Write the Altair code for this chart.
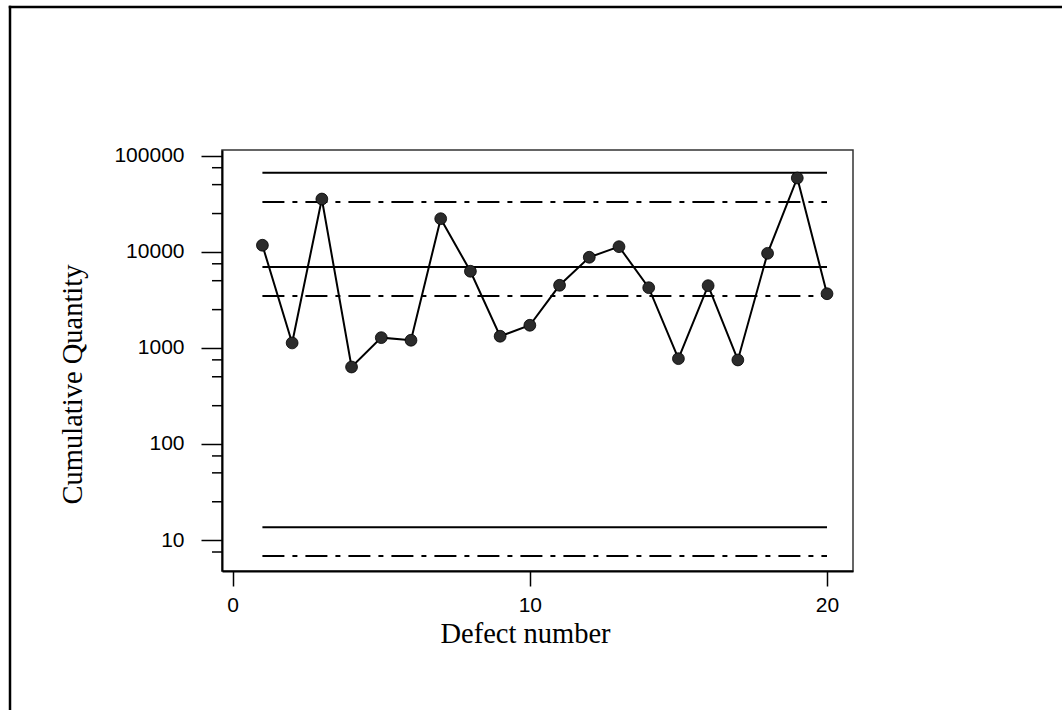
import altair as alt
import pandas as pd

# ---- data ----
defect_number = list(range(1, 21))
cumulative_quantity = [11700, 1125, 35400, 632, 1277, 1200, 22100, 6270, 1321, 1718,
                       4480, 8770, 11300, 4230, 772, 4440, 748, 9640, 58600, 3660]
solid_limits = [66540, 6944, 13.56]
dashdot_limits = [32970, 3465, 6.82]
limit_start = 1
limit_end = 20
y_major_ticks = [10, 100, 1000, 10000, 100000]
y_minor_ticks = [7.5, 25, 50, 75, 250, 500, 750, 2500, 5000, 7500, 25000, 50000, 75000]
x_ticks = [0, 10, 20]

points_df = pd.DataFrame({"x": defect_number, "y": cumulative_quantity})
solid_df = pd.DataFrame({"x": [limit_start] * len(solid_limits),
                         "x2": [limit_end] * len(solid_limits),
                         "y": solid_limits})
dash_df = pd.DataFrame({"x": [limit_start] * len(dashdot_limits),
                        "x2": [limit_end] * len(dashdot_limits),
                        "y": dashdot_limits})
minor_df = pd.DataFrame({"y": y_minor_ticks})
frame_df = pd.DataFrame({"k": [0]})

xscale = alt.Scale(domain=[-0.36, 20.875], nice=False, zero=False)
yscale = alt.Scale(type="log", domain=[4.757, 114660], nice=False)

common_axis = dict(
    tickColor="black", tickWidth=1.5, domainColor="black", domainWidth=2,
    labelFont="Liberation Sans", labelFontSize=21, labelColor="black",
    titleFont="Liberation Serif", titleFontSize=28.5, titleFontWeight="normal",
    titleColor="black", grid=False, labelFlush=False, labelOverlap=False,
)
xaxis = alt.Axis(values=x_ticks, title="Defect number", tickSize=15, labelPadding=8,
                 titleX=303, titleY=71, titleAlign="center", titleBaseline="alphabetic",
                 **common_axis)
yaxis = alt.Axis(values=y_major_ticks, format="d", title="Cumulative Quantity",
                 tickSize=21, labelPadding=17, titleAngle=270, titleX=-150, titleY=234,
                 titleAlign="center", titleBaseline="middle", **common_axis)

X = lambda f: alt.X(f, type="quantitative", scale=xscale, axis=xaxis)
Y = lambda f: alt.Y(f, type="quantitative", scale=yscale, axis=yaxis)

solid = alt.Chart(solid_df).mark_rule(color="black", strokeWidth=2).encode(
    x=X("x"), x2="x2", y=Y("y"))
dashdot = alt.Chart(dash_df).mark_rule(color="black", strokeWidth=2,
                                       strokeDash=[22, 8, 5, 8]).encode(
    x=X("x"), x2="x2", y=Y("y"))
line = alt.Chart(points_df).mark_line(color="black", strokeWidth=2).encode(
    x=X("x"), y=Y("y"))
dots = alt.Chart(points_df).mark_circle(size=140, color="#2b2b2b", opacity=1,
                                        stroke="black", strokeWidth=0.8).encode(
    x=X("x"), y=Y("y"))
minor = alt.Chart(minor_df).mark_rule(color="black", strokeWidth=1.5).encode(
    y=Y("y"), x=alt.value(-10), x2=alt.value(0))
frame_left = alt.Chart(frame_df).mark_rule(color="black", strokeWidth=2.5,
                                           strokeCap="square").encode(
    x=alt.value(-212), y=alt.value(-143), y2=alt.value(620))
frame_top = alt.Chart(frame_df).mark_rule(color="black", strokeWidth=2.5,
                                          strokeCap="square").encode(
    x=alt.value(-212), x2=alt.value(900), y=alt.value(-143))

chart = alt.layer(solid, dashdot, line, dots, minor, frame_left, frame_top).properties(
    width=631, height=421,
    padding={"left": 222, "top": 150, "right": 209, "bottom": 139},
    autosize=alt.AutoSizeParams(type="none"),
    background="white",
).configure_view(stroke="#333333", strokeWidth=1.5)

chart.save("out.html", embed_options={"renderer": "svg", "actions": False})
